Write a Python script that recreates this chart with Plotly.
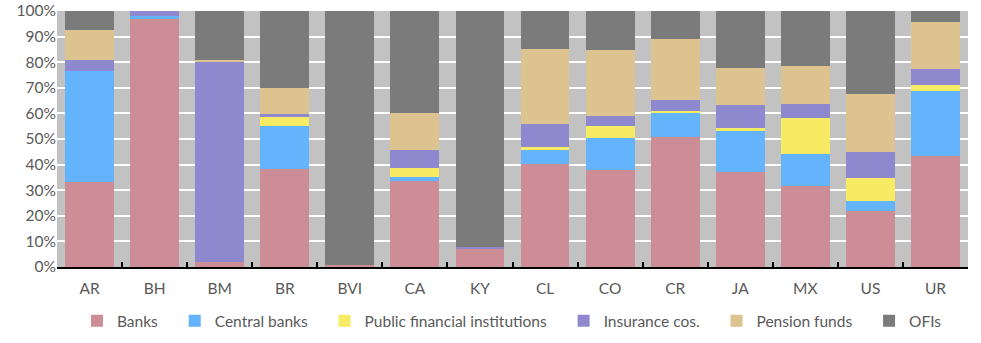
import plotly.graph_objects as go

# Holders of financial assets by country, share of total (%)
countries = ["AR", "BH", "BM", "BR", "BVI", "CA", "KY", "CL", "CO", "CR", "JA", "MX", "US", "UR"]

banks = [33.2, 96.9, 2.0, 38.2, 0.7, 33.5, 6.9, 40.3, 37.9, 50.7, 37.0, 31.7, 21.8, 43.4]
central_banks = [43.3, 1.3, 0.0, 16.8, 0.0, 1.6, 0.0, 5.3, 12.4, 9.8, 16.5, 12.4, 3.9, 25.3]
public_fin = [0.0, 0.0, 0.0, 3.7, 0.0, 3.5, 0.0, 1.2, 4.7, 0.4, 0.7, 14.0, 9.0, 2.4]
insurance = [4.3, 1.8, 78.4, 1.1, 0.0, 7.0, 0.8, 9.0, 3.9, 4.4, 9.0, 5.5, 10.2, 6.2]
pension = [11.8, 0.0, 0.4, 10.3, 0.0, 14.5, 0.0, 29.3, 25.8, 23.7, 14.5, 14.9, 22.6, 18.4]
ofis = [7.4, 0.0, 19.2, 29.9, 99.3, 39.9, 92.3, 14.9, 15.3, 11.0, 22.3, 21.5, 32.5, 4.3]

y_ticks = list(range(0, 101, 10))
y_tick_labels = [f"{v}%" for v in y_ticks]

series = [
    ("Banks", banks, "#CC8D97"),
    ("Central banks", central_banks, "#63B3FD"),
    ("Public financial institutions", public_fin, "#F7EB63"),
    ("Insurance cos.", insurance, "#8E88CE"),
    ("Pension funds", pension, "#DDC38F"),
    ("OFIs", ofis, "#7B7B7B"),
]

# non-breaking spaces widen the gap between legend entries
pad = "\u00a0" * 3

fig = go.Figure()
for name, vals, color in series:
    fig.add_trace(go.Bar(
        x=countries, y=vals, name=name + pad,
        marker=dict(color=color, line=dict(width=0)),
    ))

font_family = "Lato, 'Open Sans', sans-serif"
text_color = "#595959"
font_size = 15.5

fig.update_layout(
    barmode="stack",
    bargap=0.25,
    width=981, height=343,
    margin=dict(l=57, r=13, t=11, b=76, autoexpand=False),
    paper_bgcolor="white",
    plot_bgcolor="#C2C2C2",
    font=dict(family=font_family, size=font_size, color=text_color),
    legend=dict(
        orientation="h",
        traceorder="normal",
        xref="paper", x=0.506, xanchor="center",
        yref="container", y=0.113, yanchor="top",
        font=dict(size=font_size, color=text_color),
        itemwidth=30,
        tracegroupgap=0,
    ),
    showlegend=True,
)

fig.update_xaxes(
    type="category",
    automargin=False,
    showline=True, linecolor="black", linewidth=2,
    ticks="inside", tickson="boundaries", ticklen=5, tickcolor="black", tickwidth=2,
    showgrid=False,
    tickfont=dict(size=font_size, color=text_color),
    ticklabelstandoff=6,
)
fig.update_yaxes(
    range=[0, 100],
    automargin=False,
    tickvals=y_ticks, ticktext=y_tick_labels,
    showgrid=True, gridcolor="white", gridwidth=2,
    zeroline=False, showline=False,
    tickfont=dict(size=font_size, color=text_color),
    ticks="",
)

fig.write_html("out.html")
